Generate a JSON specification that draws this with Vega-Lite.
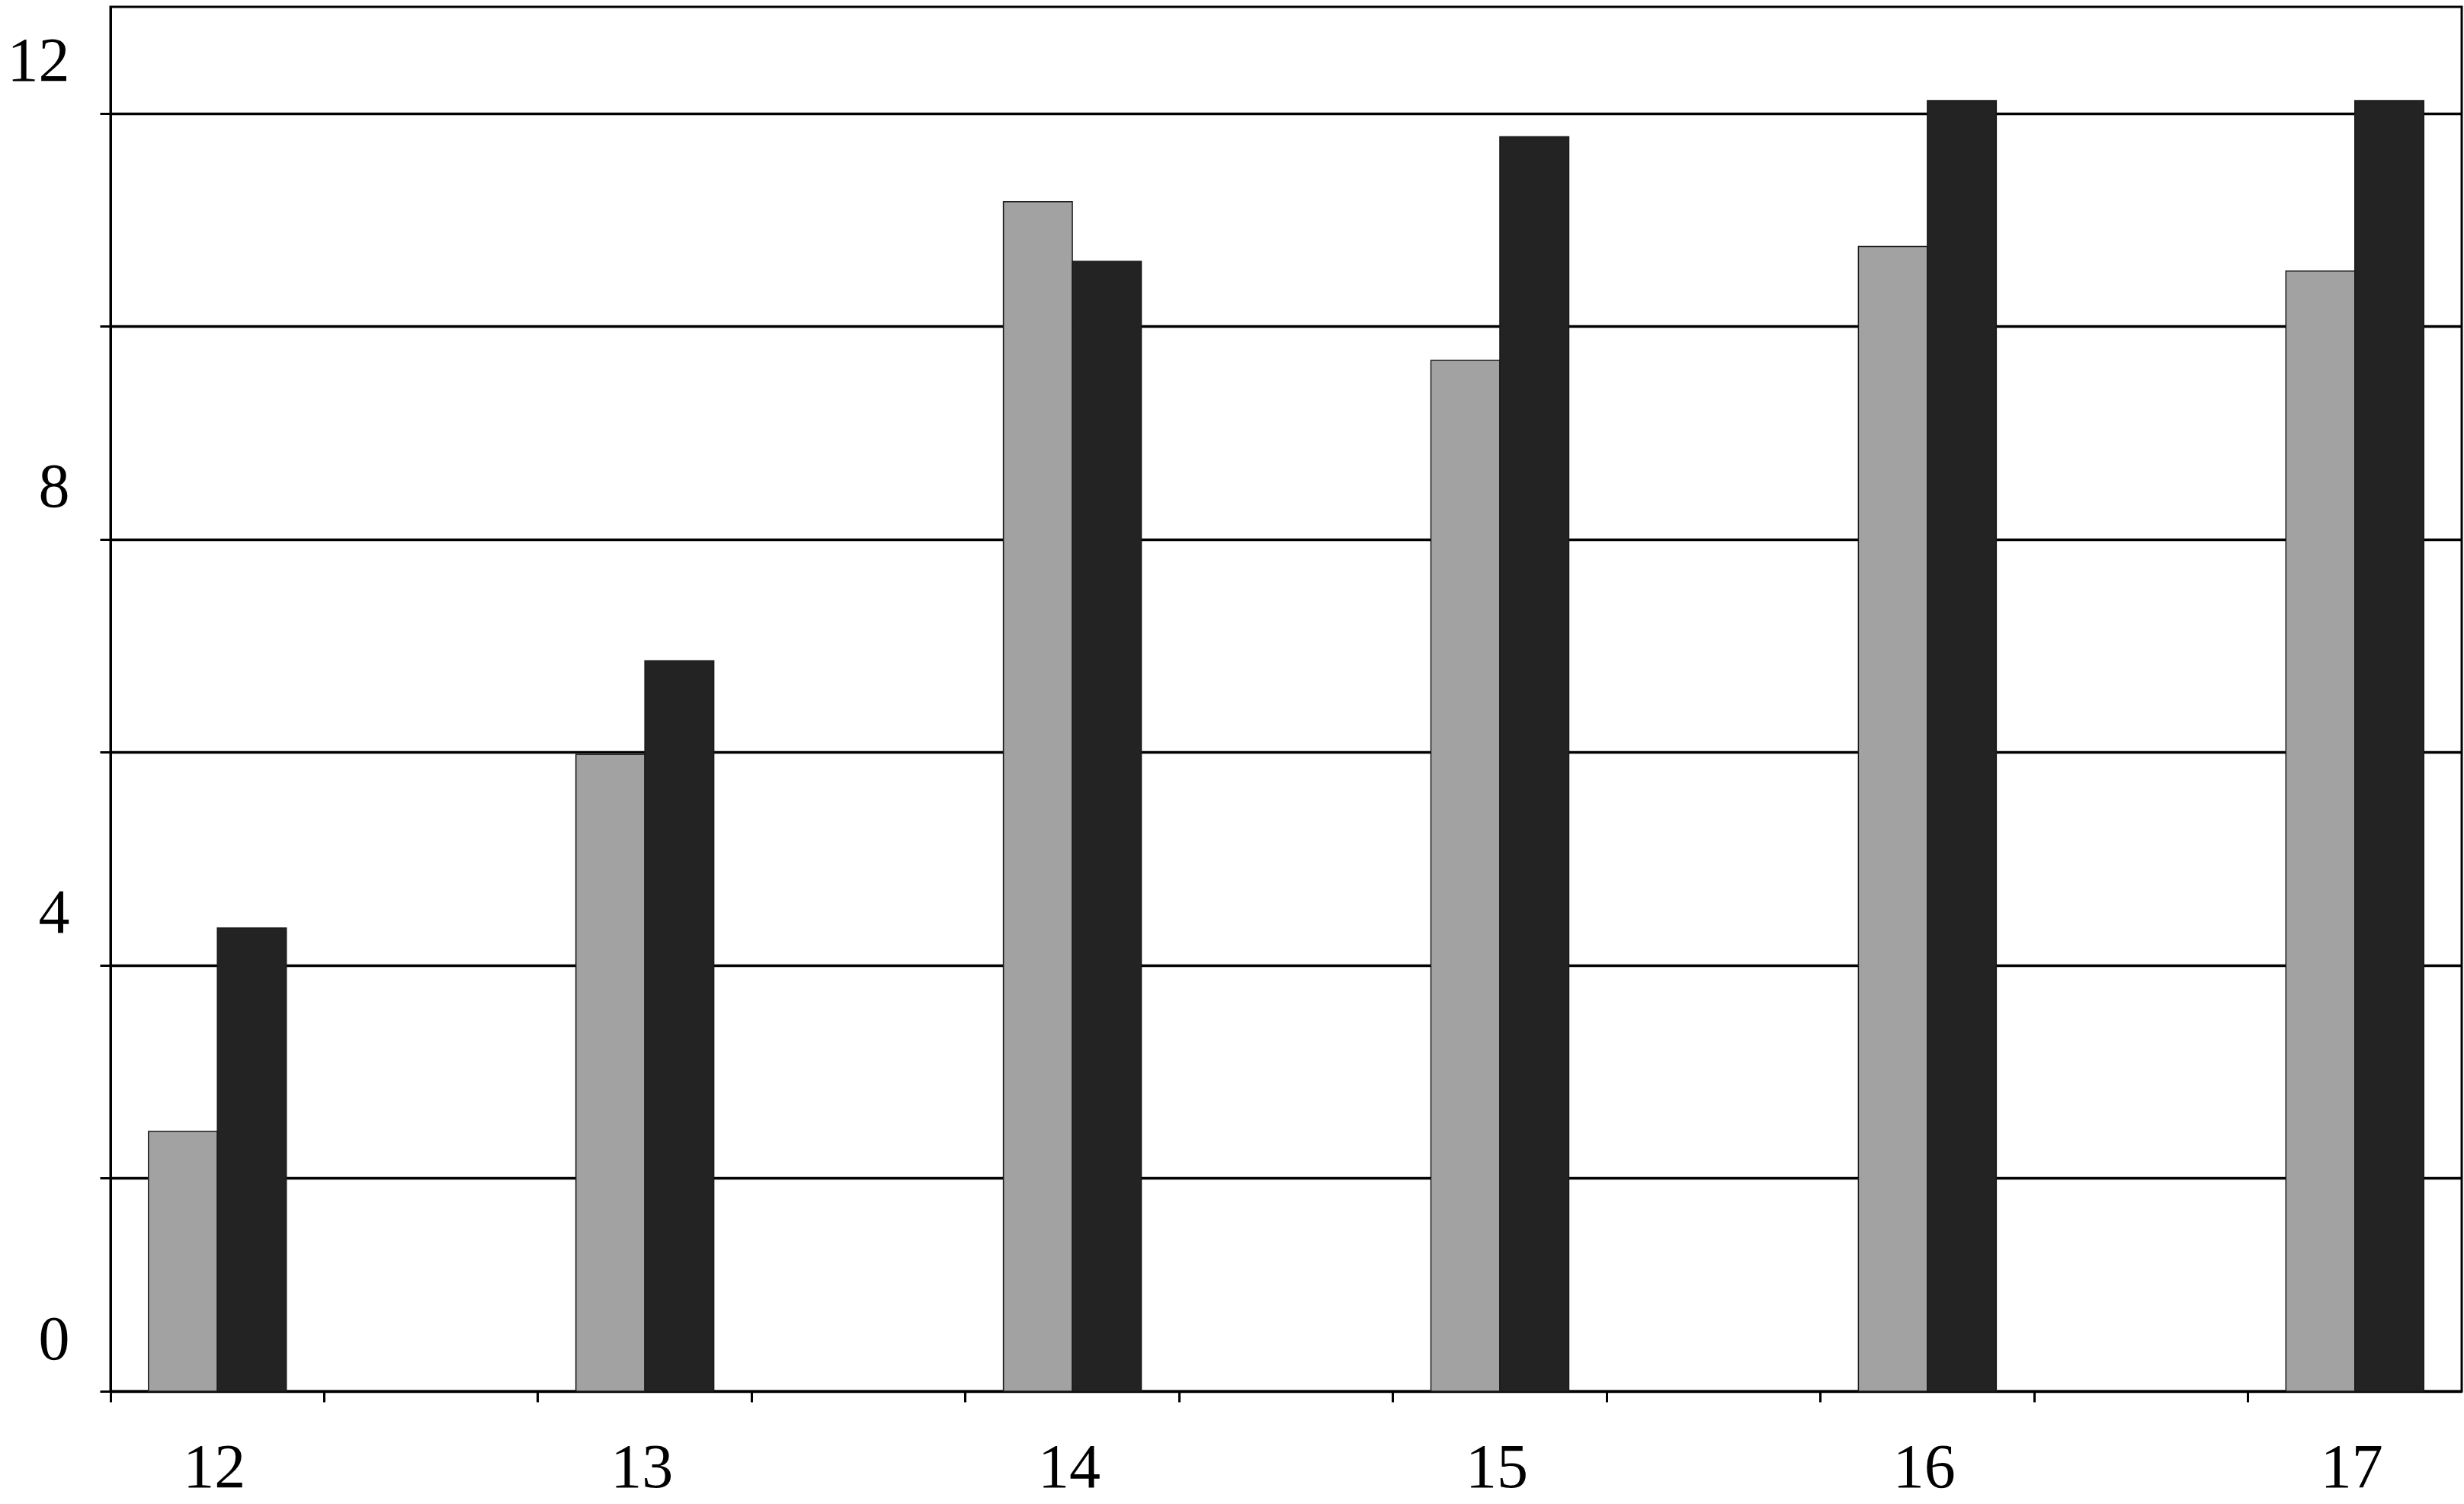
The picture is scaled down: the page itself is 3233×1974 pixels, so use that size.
{
  "$schema": "https://vega.github.io/schema/vega-lite/v6.json",
  "width": 3085,
  "height": 1817,
  "autosize": {"type": "none"},
  "padding": {"left": 145, "top": 9, "right": 3, "bottom": 148},
  "background": "white",
  "config": {
    "view": {"stroke": "black", "strokeWidth": 3},
    "axis": {"labelFont": "Liberation Serif", "labelFontSize": 82, "labelColor": "black", "domainColor": "black", "domainWidth": 3, "tickColor": "black", "tickWidth": 3, "gridColor": "black", "gridWidth": 3.5, "gridOpacity": 1}
  },
  "data": {
    "values": [
      {"age": "12", "series": "A", "value": 2.44},
      {"age": "12", "series": "B", "value": 4.35},
      {"age": "13", "series": "A", "value": 5.98},
      {"age": "13", "series": "B", "value": 6.86},
      {"age": "14", "series": "A", "value": 11.17},
      {"age": "14", "series": "B", "value": 10.61},
      {"age": "15", "series": "A", "value": 9.68},
      {"age": "15", "series": "B", "value": 11.78},
      {"age": "16", "series": "A", "value": 10.75},
      {"age": "16", "series": "B", "value": 12.12},
      {"age": "17", "series": "A", "value": 10.52},
      {"age": "17", "series": "B", "value": 12.12}
    ]
  },
  "mark": {"type": "bar", "stroke": "#1a1a1a", "strokeWidth": 1.5},
  "encoding": {
    "x": {
      "field": "age",
      "type": "nominal",
      "scale": {"domain": ["12", "a", "13", "b", "14", "c", "15", "d", "16", "e", "17"], "paddingInner": 0, "paddingOuter": 0},
      "axis": {"title": null, "labelAngle": 0, "bandPosition": 0, "labelOffset": -4, "tickSize": 14, "labelPadding": 46, "labelBaseline": "top", "labelExpr": "length(datum.label) < 2 ? '' : datum.label", "grid": false}
    },
    "xOffset": {
      "field": "series",
      "type": "nominal",
      "scale": {"paddingInner": 0, "paddingOuter": 0.55}
    },
    "y": {
      "field": "value",
      "type": "quantitative",
      "scale": {"domain": [0, 13], "nice": false, "zero": true},
      "axis": {"title": null, "values": [0, 2, 4, 6, 8, 10, 12], "grid": true, "tickSize": 14, "labelPadding": 40, "labelOffset": -68, "labelExpr": "datum.value % 4 == 0 ? datum.label : ''"}
    },
    "color": {
      "field": "series",
      "type": "nominal",
      "scale": {"domain": ["A", "B"], "range": ["#a2a2a2", "#232323"]},
      "legend": null
    }
  }
}
